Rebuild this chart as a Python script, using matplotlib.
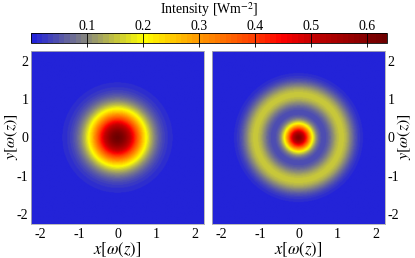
import numpy as np
import matplotlib
matplotlib.use("Agg")
import matplotlib.pyplot as plt
from matplotlib.colors import LinearSegmentedColormap

plt.rcParams['font.family'] = ['Liberation Serif', 'DejaVu Serif']
plt.rcParams['mathtext.fontset'] = 'stix'

# colour scale
cb_stops = [0.0, 0.1, 0.2, 0.3, 0.4, 0.45, 0.5, 0.636]
cb_colors = ['#2323d8', '#8c8c78', '#ffff00', '#ff9800', '#ff3c00',
             '#ff0000', '#c80000', '#6e0000']
cb_ticks = [0.1, 0.2, 0.3, 0.4, 0.5, 0.6]
vmax = 0.636

# beam parameters
extent = 2.25
axis_ticks = [-2, -1, 0, 1, 2]
axis_ticklabels = ['-2', '-1', '0', '1', '2']
left_peak, left_w = 0.63, 1.0           # gaussian beam
right_peak, right_w = 0.60, 0.50        # central spot
ring_peak, ring_r, ring_s = 0.155, 1.12, 0.34  # outer ring

cmap = LinearSegmentedColormap.from_list(
    'inten', list(zip(np.array(cb_stops) / vmax, cb_colors)), N=64)

n = 300
x = np.linspace(-extent, extent, n)
X, Y = np.meshgrid(x, x)
R = np.hypot(X, Y)
I_left = left_peak * np.exp(-2 * R**2 / left_w**2)
I_right = (right_peak * np.exp(-2 * R**2 / right_w**2)
           + ring_peak * np.exp(-((R - ring_r) / ring_s)**2))

fig = plt.figure(figsize=(4.15, 2.58), dpi=100)
ax1 = fig.add_axes([0.0747, 0.132, 0.417, 0.6705])
ax2 = fig.add_axes([0.511, 0.132, 0.417, 0.6705])
cax = fig.add_axes([0.0747, 0.833, 0.858, 0.039])

for ax, data in [(ax1, I_left), (ax2, I_right)]:
    im = ax.imshow(data, cmap=cmap, vmin=0, vmax=vmax, origin='lower',
                   extent=[-extent, extent, -extent, extent],
                   interpolation='bilinear')
    ax.set_xticks(axis_ticks)
    ax.set_xticklabels(axis_ticklabels)
    ax.set_yticks(axis_ticks)
    ax.set_yticklabels(axis_ticklabels)
    ax.tick_params(length=0, labelsize=10, pad=2)
    ax.tick_params(axis='x', pad=3)
    ax.set_xlabel(r'$x[\omega(z)]$', fontsize=12, labelpad=0)
    for sp in ax.spines.values():
        sp.set_color('#b0b0b0')
        sp.set_linewidth(0.6)

ax2.yaxis.tick_right()

# y labels placed by hand so they stay inside the figure
fig.text(10.5 / 415, 0.469, r'$y[\omega(z)]$', fontsize=11.5, rotation=90,
         ha='center', va='center')
fig.text(403.5 / 415, 0.469, r'$y[\omega(z)]$', fontsize=11.5, rotation=90,
         ha='center', va='center')

cb = fig.colorbar(im, cax=cax, orientation='horizontal', ticks=cb_ticks)
cax.xaxis.set_ticks_position('top')
cax.xaxis.set_label_position('top')
cax.tick_params(direction='in', length=10, width=0.6, labelsize=10, pad=0)
cb.outline.set_linewidth(0.6)
cb.set_label('Intensity [Wm$^{-2}$]', fontsize=10, labelpad=4)

fig.savefig('out.png', dpi=100)
